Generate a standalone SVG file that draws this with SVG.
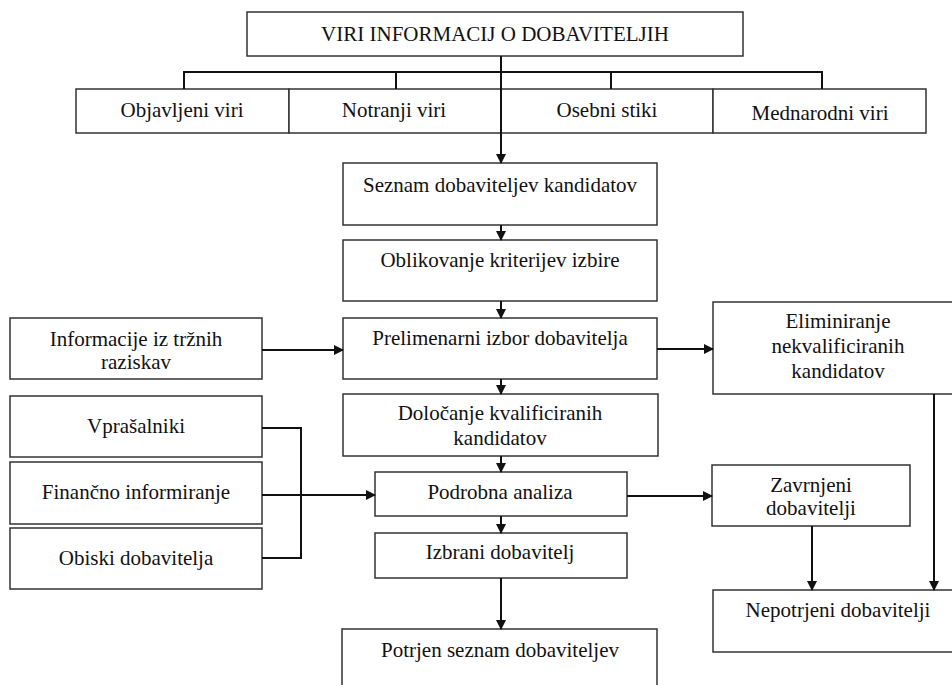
<svg xmlns="http://www.w3.org/2000/svg" width="952" height="685" viewBox="0 0 952 685">
<style>
.box{fill:#fff;stroke:#333;stroke-width:1.5}
.t{font-family:"Liberation Serif","Times New Roman",serif;font-size:21px;fill:#111;text-anchor:middle}
.c{fill:none;stroke:#111;stroke-width:2}
</style>
<defs>
<marker id="a" markerWidth="10" markerHeight="10" refX="9" refY="5" orient="auto" markerUnits="userSpaceOnUse">
<path d="M0,0 L10,5 L0,10 Z" fill="#111"/>
</marker>
</defs>
<rect width="952" height="685" fill="#fff"/>
<g id="viri"><rect class="box" x="247" y="12" width="496" height="44"/><text class="t" x="495" y="41">VIRI INFORMACIJ O DOBAVITELJIH</text></g>
<g id="objavljeni"><rect class="box" x="76" y="89" width="213" height="44"/><text class="t" x="182" y="117">Objavljeni viri</text></g>
<g id="notranji"><rect class="box" x="289" y="89" width="212" height="44"/><text class="t" x="394" y="117">Notranji viri</text></g>
<g id="osebni"><rect class="box" x="501" y="89" width="212" height="44"/><text class="t" x="607" y="117">Osebni stiki</text></g>
<g id="mednarodni"><rect class="box" x="713" y="89" width="213" height="44"/><text class="t" x="820" y="120">Mednarodni viri</text></g>
<g id="seznam"><rect class="box" x="343" y="163" width="314" height="62"/><text class="t" x="500" y="192">Seznam dobaviteljev kandidatov</text></g>
<g id="oblikovanje"><rect class="box" x="343" y="240" width="314" height="61"/><text class="t" x="500" y="267">Oblikovanje kriterijev izbire</text></g>
<g id="prelimenarni"><rect class="box" x="343" y="318" width="314" height="61"/><text class="t" x="500" y="345">Prelimenarni izbor dobavitelja</text></g>
<g id="dolocanje"><rect class="box" x="343" y="394" width="315" height="62"/><text class="t" x="500" y="420">Določanje kvalificiranih</text><text class="t" x="500" y="445">kandidatov</text></g>
<g id="podrobna"><rect class="box" x="375" y="472" width="252" height="44"/><text class="t" x="500" y="499">Podrobna analiza</text></g>
<g id="izbrani"><rect class="box" x="375" y="533" width="252" height="45"/><text class="t" x="500" y="559">Izbrani dobavitelj</text></g>
<g id="potrjen"><rect class="box" x="342" y="629" width="315" height="70"/><text class="t" x="500" y="657">Potrjen seznam dobaviteljev</text></g>
<g id="informacije"><rect class="box" x="10" y="318" width="252" height="61"/><text class="t" x="136" y="346">Informacije iz tržnih</text><text class="t" x="136" y="369">raziskav</text></g>
<g id="vprasalniki"><rect class="box" x="10" y="396" width="252" height="61"/><text class="t" x="136" y="433">Vprašalniki</text></g>
<g id="financno"><rect class="box" x="10" y="462" width="252" height="62"/><text class="t" x="136" y="499">Finančno informiranje</text></g>
<g id="obiski"><rect class="box" x="10" y="528" width="252" height="61"/><text class="t" x="136" y="565">Obiski dobavitelja</text></g>
<g id="eliminiranje"><rect class="box" x="713" y="302" width="252" height="92"/><text class="t" x="838" y="328">Eliminiranje</text><text class="t" x="838" y="353">nekvalificiranih</text><text class="t" x="838" y="378">kandidatov</text></g>
<g id="zavrnjeni"><rect class="box" x="712" y="465" width="198" height="61"/><text class="t" x="811" y="492">Zavrnjeni</text><text class="t" x="811" y="515">dobavitelji</text></g>
<g id="nepotrjeni"><rect class="box" x="713" y="590" width="252" height="62"/><text class="t" x="838" y="617">Nepotrjeni dobavitelji</text></g>
<g id="connectors">
<path class="c" d="M184,89 V72 H822 V89 M396,72 V89 M611,72 V89"/>
<path class="c" d="M501,56 V163" marker-end="url(#a)"/>
<path class="c" d="M501,225 V240" marker-end="url(#a)"/>
<path class="c" d="M501,301 V318" marker-end="url(#a)"/>
<path class="c" d="M501,379 V394" marker-end="url(#a)"/>
<path class="c" d="M501,456 V472" marker-end="url(#a)"/>
<path class="c" d="M501,516 V533" marker-end="url(#a)"/>
<path class="c" d="M501,578 V629" marker-end="url(#a)"/>
<path class="c" d="M262,350 H343" marker-end="url(#a)"/>
<path class="c" d="M657,349 H713" marker-end="url(#a)"/>
<path class="c" d="M262,428 H301 V558 H262"/>
<path class="c" d="M262,495 H375" marker-end="url(#a)"/>
<path class="c" d="M627,496 H712" marker-end="url(#a)"/>
<path class="c" d="M812,526 V590" marker-end="url(#a)"/>
<path class="c" d="M934,394 V590" marker-end="url(#a)"/>
</g>
</svg>
